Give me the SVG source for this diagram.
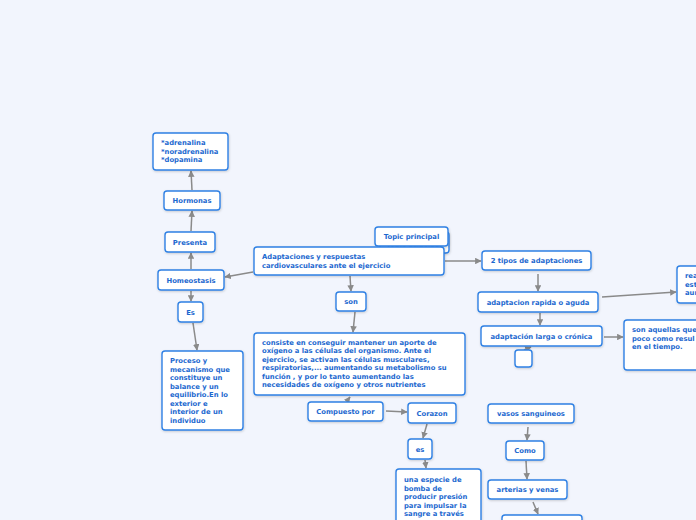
<svg xmlns="http://www.w3.org/2000/svg" width="696" height="520" viewBox="0 0 696 520">
<defs>
<style>
.n{fill:#fff;stroke:#2f80e4;stroke-width:1.4;filter:url(#sh)}
.t{font-family:"DejaVu Sans","Liberation Sans",sans-serif;font-weight:bold;font-size:6.8px;fill:#1c68cf}
.c{text-anchor:middle}
.e{fill:none;stroke:#8a8a8a;stroke-width:1.5;marker-end:url(#ah)}
</style>
<filter id="sh" x="-10%" y="-10%" width="130%" height="140%"><feDropShadow dx="0.5" dy="1" stdDeviation="0.8" flood-color="#000" flood-opacity="0.18"/></filter>
<marker id="ah" viewBox="0 0 10 10" refX="9" refY="5" markerWidth="6.5" markerHeight="6.5" orient="auto" markerUnits="userSpaceOnUse"><path d="M0,0L10,5L0,10z" fill="#8a8a8a"/></marker>
</defs>
<rect width="696" height="520" fill="#f2f5fd"/>
<g id="connectors">
<path class="e" d="M192,190L191,171"/>
<path class="e" d="M191,231L192,211"/>
<path class="e" d="M191,269L191,253"/>
<path class="e" d="M253,272L225,277"/>
<path class="e" d="M191,291L191,301"/>
<path class="e" d="M193,323L197,350"/>
<path class="e" d="M350,276L351,291"/>
<path class="e" d="M355,312L353,332"/>
<path class="e" d="M347,401L350,397"/>
<path class="e" d="M386,411L407,412"/>
<path class="e" d="M427,424L423,438"/>
<path class="e" d="M425,460L426,468"/>
<path class="e" d="M445,261L481,261"/>
<path class="e" d="M538,274L538,291"/>
<path class="e" d="M602,297L676,292"/>
<path class="e" d="M540,313L540,325"/>
<path class="e" d="M604,337L623,337"/>
<path class="e" d="M524,350L531,347"/>
<path class="e" d="M528,427L527,440"/>
<path class="e" d="M526,461L527,479"/>
<path class="e" d="M533,502L538,514"/>
</g>
<g id="adrenalina"><rect class="n" x="153" y="133" width="75" height="37" rx="3"/><text class="t" x="161" y="145">*adrenalina</text><text class="t" x="161" y="153.5">*noradrenalina</text><text class="t" x="161" y="162">*dopamina</text></g>
<g id="hormonas"><rect class="n" x="164" y="191" width="56" height="19" rx="3"/><text class="t c" x="192" y="203">Hormonas</text></g>
<g id="presenta"><rect class="n" x="165" y="232" width="50" height="20" rx="3"/><text class="t c" x="190" y="245">Presenta</text></g>
<g id="homeostasis"><rect class="n" x="158" y="270" width="66" height="20" rx="3"/><text class="t c" x="191" y="283">Homeostasis</text></g>
<g id="es1"><rect class="n" x="178" y="302" width="25" height="20" rx="3"/><text class="t c" x="190.5" y="315">Es</text></g>
<g id="proceso"><rect class="n" x="162" y="351" width="81" height="79" rx="3"/>
<text class="t" x="170" y="363">Proceso y</text><text class="t" x="170" y="371.5">mecanismo que</text><text class="t" x="170" y="380">constituye  un</text><text class="t" x="170" y="388.5">balance y un</text><text class="t" x="170" y="397">equilibrio.En lo</text><text class="t" x="170" y="405.5">exterior e</text><text class="t" x="170" y="414">interior de  un</text><text class="t" x="170" y="422.5">individuo</text></g>
<g id="topic2"><rect class="n" x="380" y="232" width="69" height="21" rx="3"/><text class="t c" x="414" y="250">Topic principal</text></g>
<g id="topic"><rect class="n" x="375" y="227" width="73" height="19" rx="3"/><text class="t c" x="411.5" y="239">Topic principal</text></g>
<g id="main"><rect class="n" x="254" y="247" width="190" height="28" rx="3"/><text class="t" x="262" y="259">Adaptaciones y respuestas</text><text class="t" x="262" y="268">cardiovasculares ante el ejercicio</text></g>
<g id="son"><rect class="n" x="336" y="292" width="30" height="19" rx="3"/><text class="t c" x="351" y="304">son</text></g>
<g id="consiste"><rect class="n" x="254" y="333" width="211" height="62" rx="3"/>
<text class="t" x="262" y="345">consiste en conseguir mantener un aporte de</text><text class="t" x="262" y="353.4">oxígeno a las células del organismo. Ante el</text><text class="t" x="262" y="361.8">ejercicio, se activan las células musculares,</text><text class="t" x="262" y="370.2">respiratorias,... aumentando su metabolismo su</text><text class="t" x="262" y="378.6">función , y por lo tanto aumentando las</text><text class="t" x="262" y="387">necesidades de oxígeno y otros nutrientes</text></g>
<g id="compuesto"><rect class="n" x="308" y="402" width="75" height="19" rx="3"/><text class="t c" x="345.5" y="414">Compuesto por</text></g>
<g id="corazon"><rect class="n" x="408" y="403" width="48" height="20" rx="3"/><text class="t c" x="432" y="416">Corazon</text></g>
<g id="es2"><rect class="n" x="408" y="439" width="24" height="20" rx="3"/><text class="t c" x="420" y="452">es</text></g>
<g id="bomba"><rect class="n" x="396" y="469" width="85" height="60" rx="3"/>
<text class="t" x="404" y="482">una especie de</text><text class="t" x="404" y="490.5">bomba de</text><text class="t" x="404" y="499">producir presión</text><text class="t" x="404" y="507.5">para impulsar la</text><text class="t" x="404" y="516">sangre a través</text></g>
<g id="tipos"><rect class="n" x="482" y="251" width="109" height="19" rx="3"/><text class="t c" x="536.5" y="263">2 tipos de adaptaciones</text></g>
<g id="rapida"><rect class="n" x="478" y="292" width="120" height="20" rx="3"/><text class="t c" x="538" y="305">adaptacion rapida o aguda</text></g>
<g id="larga"><rect class="n" x="481" y="326" width="121" height="20" rx="3"/><text class="t c" x="541.5" y="339">adaptación larga o crónica</text></g>
<g id="empty"><rect class="n" x="515" y="350" width="17" height="17" rx="3"/></g>
<g id="rea"><rect class="n" x="677" y="266" width="40" height="37" rx="3"/><text class="t" x="685" y="278">rea</text><text class="t" x="685" y="286.5">est</text><text class="t" x="685" y="295">aum</text></g>
<g id="aquellas"><rect class="n" x="624" y="320" width="80" height="50" rx="3"/><text class="t" x="632" y="332">son aquellas que</text><text class="t" x="632" y="340.5">poco como resul</text><text class="t" x="632" y="349">en el tiempo.</text></g>
<g id="vasos"><rect class="n" x="488" y="404" width="86" height="19" rx="3"/><text class="t c" x="531" y="416">vasos sanguineos</text></g>
<g id="como"><rect class="n" x="506" y="441" width="38" height="19" rx="3"/><text class="t c" x="525" y="453">Como</text></g>
<g id="arterias"><rect class="n" x="488" y="480" width="79" height="19" rx="3"/><text class="t c" x="527.5" y="492">arterias y venas</text></g>
<g id="bottom"><rect class="n" x="502" y="515" width="80" height="20" rx="3"/></g>
</svg>
